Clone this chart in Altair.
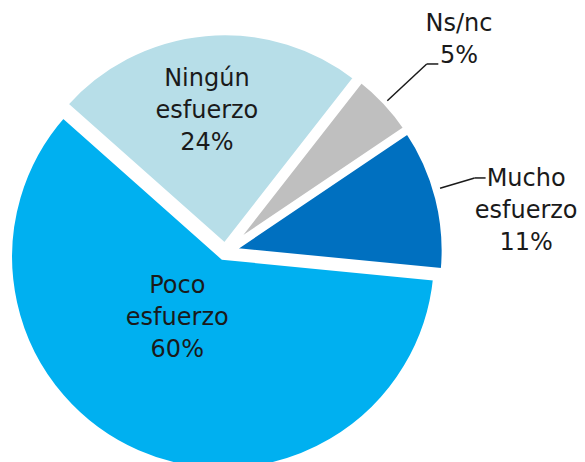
import math
import altair as alt
import pandas as pd

# ---- data ----
keys = ["Mucho", "Poco", "Ningun", "Nsnc"]
names = ["Mucho\nesfuerzo", "Poco\nesfuerzo", "Ningún\nesfuerzo", "Ns/nc"]
values = [11, 60, 24, 5]
colors = ["#0070C0", "#00B0F0", "#B7DEE8", "#BFBFBF"]

df = pd.DataFrame({"key": keys, "name": names, "value": values,
                   "order": list(range(len(keys)))})

# ---- layout / style ----
CX, CY = 217.3, 243.8          # pie centre (px)
A0 = math.radians(56)          # start angle of first slice
R = 214                        # outer radius
E = 5.5                        # explode distance
FONT = "DejaVu Sans"
TXT = "#1a1a1a"

base = (
    alt.Chart(df)
    .transform_window(cum="sum(value)", sort=[alt.SortField("order")])
    .transform_joinaggregate(total="sum(value)")
    .transform_calculate(
        f0="(datum.cum - datum.value) / datum.total",
        f1="datum.cum / datum.total",
    )
    .transform_calculate(
        mid=f"{A0} + PI * (datum.f0 + datum.f1)",
        label="datum.name + '\\n' + datum.value + '%'",
    )
)

theta_scale = alt.Scale(domain=[0, 1], range=[A0, A0 + 2 * math.pi])

arcs = (
    base.transform_calculate(
        cx=f"{CX} + {E} * sin(datum.mid)",
        cy=f"{CY} - {E} * cos(datum.mid)",
    )
    .mark_arc(outerRadius=R, stroke="white", strokeWidth=6)
    .encode(
        theta=alt.Theta("f0:Q", scale=theta_scale, stack=False),
        theta2="f1:Q",
        x=alt.X("cx:Q", scale=None, axis=None),
        y=alt.Y("cy:Q", scale=None, axis=None),
        color=alt.Color("key:N", scale=alt.Scale(domain=keys, range=colors), legend=None),
    )
)

# label placement: radius, dx, dy (dy refers to first line)
label_cfg = {
    "Mucho": (300, 10, 1),
    "Poco": (80, -16, -39),
    "Ningun": (137, -6, -36),
    "Nsnc": (314, 4, -14),
}
texts = []
for k, (r, dx, dy) in label_cfg.items():
    texts.append(
        base.transform_filter(alt.datum.key == k)
        .transform_calculate(
            lx=f"{CX} + {r} * sin(datum.mid)",
            ly=f"{CY} - {r} * cos(datum.mid)",
        )
        .mark_text(font=FONT, fontSize=24, color=TXT, align="center",
                   baseline="middle", lineBreak="\n", lineHeight=32,
                   dx=dx, dy=dy)
        .encode(
            x=alt.X("lx:Q", scale=None, axis=None),
            y=alt.Y("ly:Q", scale=None, axis=None),
            text="label:N",
        )
    )

# leader lines: angle offset (deg), inner radius, elbow radius, horizontal length
leader_cfg = {
    "Nsnc": (0.0, 221.5, 275.4, 11.6),
    "Mucho": (-2.3, 224, 260, 11),
}
rules = []
for k, (da, r0, r1, h) in leader_cfg.items():
    d = base.transform_filter(alt.datum.key == k).transform_calculate(
        a=f"datum.mid + {math.radians(da)}"
    ).transform_calculate(
        xa=f"{CX} + {r0} * sin(datum.a)",
        ya=f"{CY} - {r0} * cos(datum.a)",
        xb=f"{CX} + {r1} * sin(datum.a)",
        yb=f"{CY} - {r1} * cos(datum.a)",
    ).transform_calculate(xc=f"datum.xb + {h}")
    rules.append(
        d.mark_rule(color=TXT, strokeWidth=1.5).encode(
            x=alt.X("xa:Q", scale=None, axis=None),
            y=alt.Y("ya:Q", scale=None, axis=None),
            x2="xb:Q", y2="yb:Q",
        )
    )
    rules.append(
        d.mark_rule(color=TXT, strokeWidth=1.5).encode(
            x=alt.X("xb:Q", scale=None, axis=None),
            y=alt.Y("yb:Q", scale=None, axis=None),
            x2="xc:Q", y2="yb:Q",
        )
    )

chart = (
    alt.layer(arcs, *rules, *texts)
    .properties(width=569, height=454, padding=0,
                autosize=alt.AutoSizeParams(type="none"))
    .configure_view(stroke=None)
)

chart.save("out.html", embed_options={"renderer": "svg", "actions": False})
